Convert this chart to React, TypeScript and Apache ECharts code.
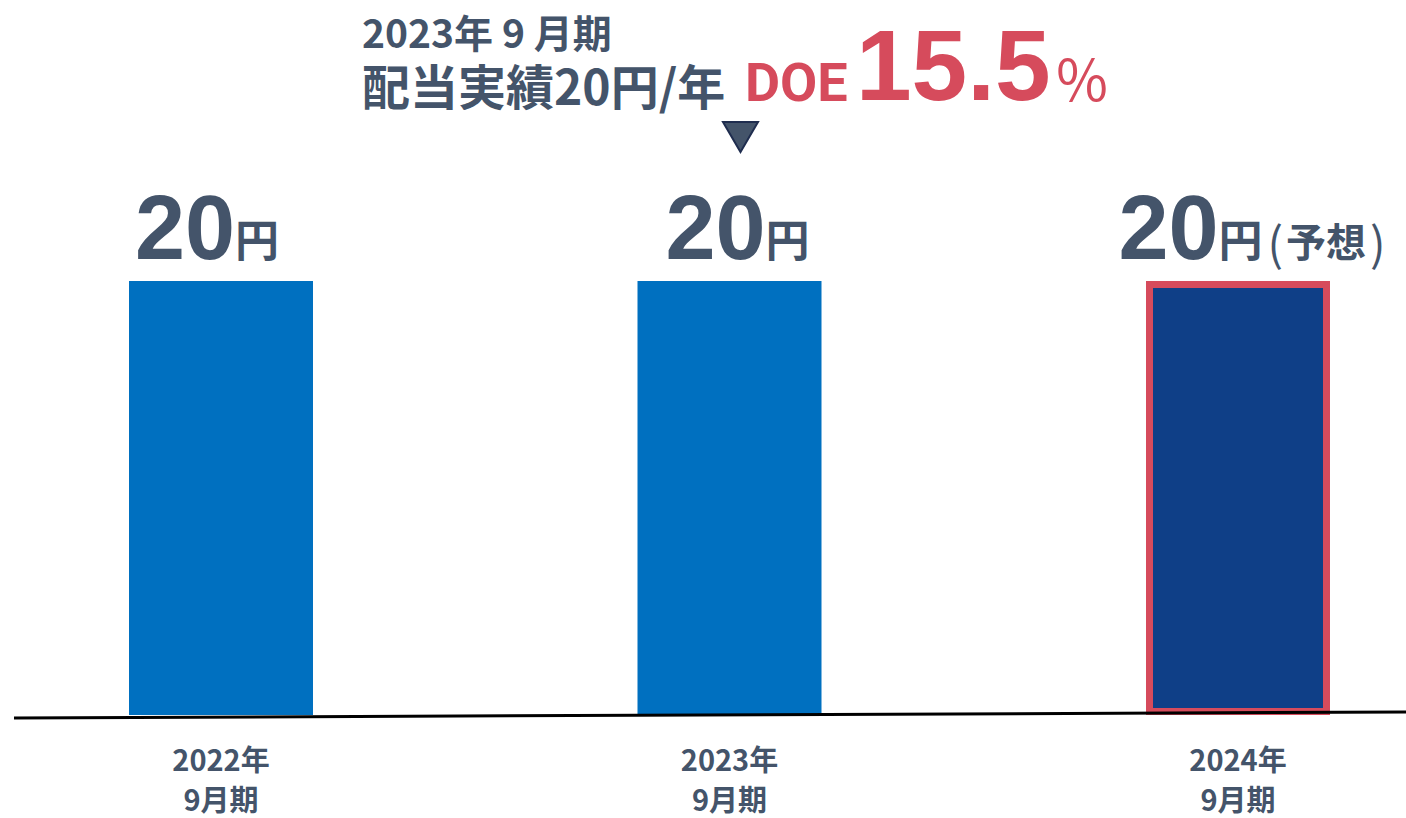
import React, { useEffect, useRef } from "react";
import * as echarts from "echarts";

const categories = ["2022年\n9月期", "2023年\n9月期", "2024年\n9月期"];
const dividends = [20, 20, 20];
const forecastIndex = 2;
const forecastNote = "予想";
const titleLine1 = "2023年 9 月期";
const titleLine2 = "配当実績20円/年";
const doeLabel = "DOE";
const doeValue = "15.5";
const doeUnit = "％";

const TEXT = "#44546A";
const RED = "#D64B5C";
const CJK = "'Noto Sans CJK JP', 'Noto Sans', sans-serif";
const LAT = "'Liberation Sans', Arial, sans-serif";
const labelShift = [-14, 8, 14];

export default function App() {
  const ref = useRef<HTMLDivElement>(null);
  useEffect(() => {
    if (!ref.current) return;
    const chart = echarts.init(ref.current, null, { renderer: "svg" });
    const noteStyle = { fontSize: 40, fontWeight: "bold", fontFamily: CJK, color: TEXT, verticalAlign: "bottom", lineHeight: 60 };
    chart.setOption({
      animation: false,
      backgroundColor: "#ffffff",
      grid: { left: 221, right: 168, top: 281, bottom: 103, containLabel: false },
      xAxis: {
        type: "category",
        data: categories,
        boundaryGap: false,
        axisLine: { show: false },
        axisTick: { show: false },
        axisLabel: {
          margin: 23,
          color: TEXT,
          fontSize: 29,
          fontWeight: "bold",
          fontFamily: CJK,
          lineHeight: 40,
        },
      },
      yAxis: { type: "value", min: 0, max: 20, show: false, splitLine: { show: false } },
      series: [
        {
          type: "bar",
          barWidth: 184,
          data: dividends.map((v, i) =>
            i === forecastIndex
              ? {
                  value: v,
                  itemStyle: { color: "#0F3F87", borderColor: RED, borderWidth: 7 },
                  label: { offset: [labelShift[i], 0] },
                }
              : { value: v, itemStyle: { color: "#0070C0" }, label: { offset: [labelShift[i], 0] } }
          ),
          label: {
            show: true,
            position: "top",
            distance: 8,
            formatter: (p: any) =>
              `{a|${p.value}}{b|円}` +
              (p.dataIndex === forecastIndex ? `{l|(}{c|${forecastNote}}{r|)}` : ""),
            rich: {
              a: { fontSize: 90, fontWeight: "bold", fontFamily: LAT, color: TEXT, verticalAlign: "bottom", lineHeight: 90 },
              b: { fontSize: 44, fontWeight: "bold", fontFamily: CJK, color: TEXT, verticalAlign: "bottom", lineHeight: 60, padding: [0, 0, 13, 0] },
              c: { ...noteStyle, padding: [0, 0, 13, 0] },
              l: { ...noteStyle, fontSize: 46, fontWeight: "normal", padding: [0, 3, 9, 5] },
              r: { ...noteStyle, fontSize: 46, fontWeight: "normal", padding: [0, 0, 9, 4] },
            },
          },
        },
      ],
      graphic: [
        {
          type: "line",
          z: 100,
          shape: { x1: 14, y1: 718, x2: 1406, y2: 712 },
          style: { stroke: "#000000", lineWidth: 3 },
        },
        {
          type: "text",
          x: 362,
          y: 31,
          style: { text: titleLine1, fill: TEXT, fontSize: 39, fontWeight: "bold", fontFamily: CJK, align: "left", verticalAlign: "middle" },
        },
        {
          type: "text",
          x: 362,
          y: 84,
          style: { text: titleLine2, fill: TEXT, fontSize: 48, fontWeight: "bold", fontFamily: CJK, align: "left", verticalAlign: "middle" },
        },
        {
          type: "text",
          x: 745,
          y: 82,
          style: { text: doeLabel, fill: RED, fontSize: 54, fontWeight: "bold", fontFamily: "Roboto, " + LAT, align: "left", verticalAlign: "middle" },
        },
        {
          type: "text",
          x: 856,
          y: 65,
          style: { text: doeValue, fill: RED, fontSize: 100, fontWeight: "bold", fontFamily: LAT, align: "left", verticalAlign: "middle" },
        },
        {
          type: "text",
          x: 1054,
          y: 76,
          style: { text: doeUnit, fill: RED, fontSize: 56, fontWeight: "normal", fontFamily: CJK, align: "left", verticalAlign: "middle" },
        },
        {
          type: "polygon",
          shape: { points: [[723, 122], [758, 122], [740.5, 152]] },
          style: { fill: TEXT, stroke: "#1F2D4F", lineWidth: 2 },
        },
      ],
    });
    return () => chart.dispose();
  }, []);
  return (
    <div
      ref={ref}
      style={{ position: "fixed", left: 0, top: 0, width: 1406, height: 818, background: "#fff" }}
    />
  );
}
